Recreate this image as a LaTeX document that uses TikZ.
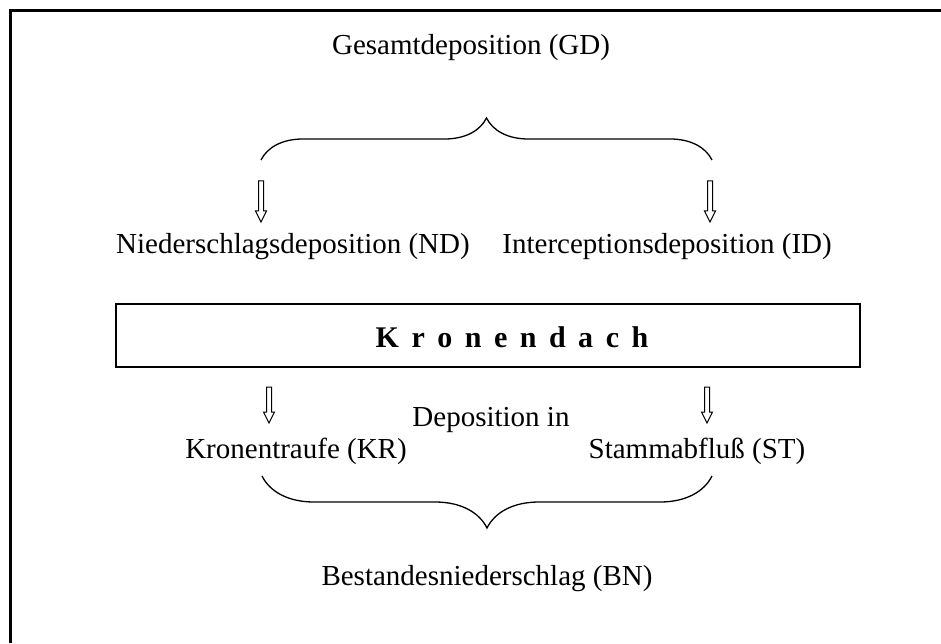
\documentclass[tikz,border=0pt]{standalone}
\usepackage{fontspec}
\setmainfont{Liberation Serif}
\usetikzlibrary{calc,decorations.pathreplacing}
\tikzset{
	labeltext/.style={font=\fontsize{29}{34}\selectfont, inner sep=0pt},
	curly/.style={decorate, decoration={brace, amplitude=#1, aspect=0.5}, line width=1.3pt},
	hollow/.style={line width=1pt, line join=miter},
}
\begin{document}
\begin{tikzpicture}[x=1pt, y=1pt]
	\useasboundingbox (0,0) rectangle (941,643);
	% outer frame (cut at right and bottom)
	\draw[line width=3pt] (10,0) -- (10,632) -- (941,632);
	% top part
	\node[labeltext] (gd) at (471,595) {Gesamtdeposition (GD)};
	\coordinate (gdleft) at (261,483);
	\coordinate (gdright) at (712,483);
	\draw[curly=42pt] (gdleft) -- (gdright);
	\node[labeltext, anchor=west] (nd) at (116,396) {Niederschlagsdeposition (ND)};
	\node[labeltext, anchor=east] (id) at (832,396) {Interceptionsdeposition (ID)};
	% canopy box
	\node[draw, line width=2pt, minimum width=744pt, minimum height=63pt, inner sep=0pt] (kd) at (488,307.5) {};
	\node[font=\fontsize{30}{34}\selectfont\bfseries, inner sep=0pt] (kdtext) at (512,306) {K\,\ r\,\ o\,\ n\,\ e\,\ n\,\ d\,\ a\,\ c\,\ h};
	% bottom part
	\node[labeltext] (dep) at (491,223) {Deposition in};
	\node[labeltext] (kr) at (296,192) {Kronentraufe (KR)};
	\node[labeltext] (st) at (697,192) {Stammabfluß (ST)};
	\coordinate (bnright) at (712,167);
	\coordinate (bnleft) at (262,167);
	\draw[curly=52pt] (bnright) -- (bnleft);
	\node[labeltext] (bn) at (487,64) {Bestandesniederschlag (BN)};
	% hollow arrows
	\coordinate (ndtop) at (261,462);
	\coordinate (ndtip) at (261,421);
	\coordinate (idtop) at (710,462);
	\coordinate (idtip) at (710,421);
	\coordinate (krtop) at (269,256);
	\coordinate (krtip) at (269,220);
	\coordinate (sttop) at (707,256);
	\coordinate (sttip) at (707,220);
	\foreach \from/\to in {ndtop/ndtip, idtop/idtip, krtop/krtip, sttop/sttip}
	{
		\draw[hollow] ($(\from)+(-2.5,0)$) -- ($(\to)+(-2.5,11)$) -- ($(\to)+(-5.5,11)$) -- (\to)
			-- ($(\to)+(5.5,11)$) -- ($(\to)+(2.5,11)$) -- ($(\from)+(2.5,0)$) -- cycle;
	}
\end{tikzpicture}
\end{document}
